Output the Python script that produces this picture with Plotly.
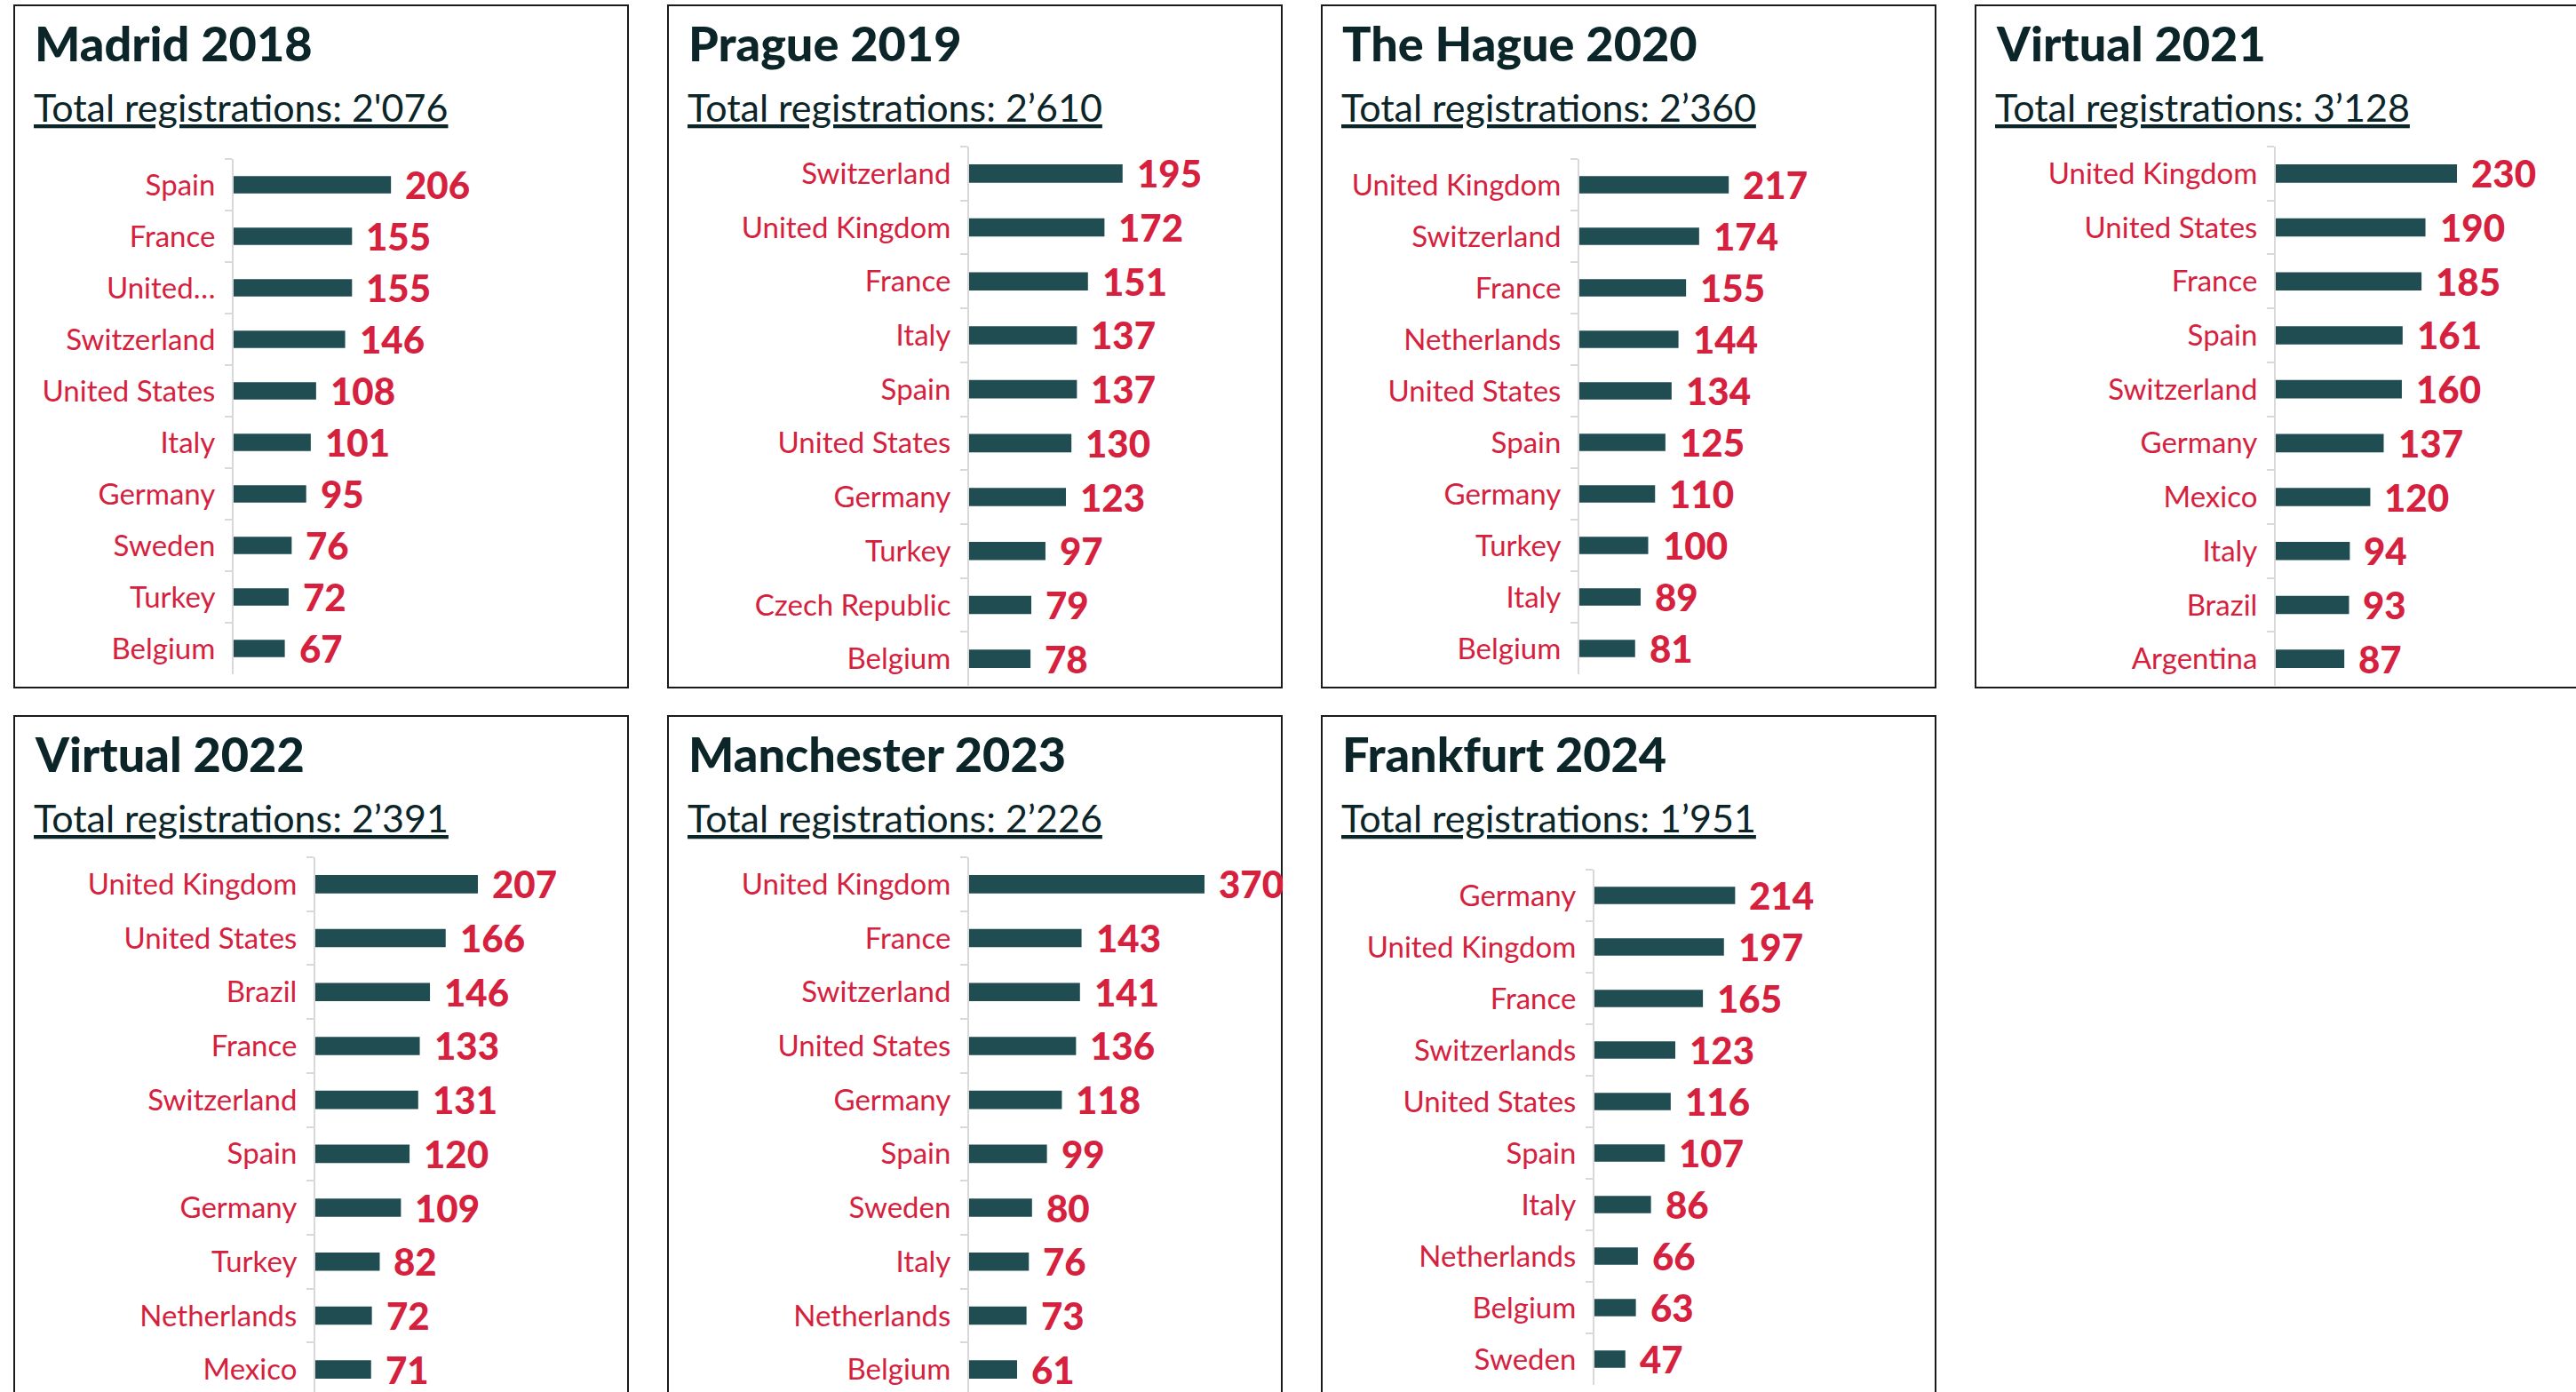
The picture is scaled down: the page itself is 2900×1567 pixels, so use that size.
import plotly.graph_objects as go

W, H = 2900, 1567

# ---------------- data ----------------
titles = ["Madrid 2018", "Prague 2019", "The Hague 2020", "Virtual 2021",
          "Virtual 2022", "Manchester 2023", "Frankfurt 2024"]
totals = ["2'076", "2’610", "2’360", "3’128", "2’391", "2’226", "1’951"]

madrid_countries = ["Spain", "France", "United…", "Switzerland", "United States",
                    "Italy", "Germany", "Sweden", "Turkey", "Belgium"]
madrid_values = [206, 155, 155, 146, 108, 101, 95, 76, 72, 67]

prague_countries = ["Switzerland", "United Kingdom", "France", "Italy", "Spain",
                    "United States", "Germany", "Turkey", "Czech Republic", "Belgium"]
prague_values = [195, 172, 151, 137, 137, 130, 123, 97, 79, 78]

hague_countries = ["United Kingdom", "Switzerland", "France", "Netherlands", "United States",
                   "Spain", "Germany", "Turkey", "Italy", "Belgium"]
hague_values = [217, 174, 155, 144, 134, 125, 110, 100, 89, 81]

virtual21_countries = ["United Kingdom", "United States", "France", "Spain", "Switzerland",
                       "Germany", "Mexico", "Italy", "Brazil", "Argentina"]
virtual21_values = [230, 190, 185, 161, 160, 137, 120, 94, 93, 87]

virtual22_countries = ["United Kingdom", "United States", "Brazil", "France", "Switzerland",
                       "Spain", "Germany", "Turkey", "Netherlands", "Mexico"]
virtual22_values = [207, 166, 146, 133, 131, 120, 109, 82, 72, 71]

manchester_countries = ["United Kingdom", "France", "Switzerland", "United States", "Germany",
                        "Spain", "Sweden", "Italy", "Netherlands", "Belgium"]
manchester_values = [370, 143, 141, 136, 118, 99, 80, 76, 73, 61]

frankfurt_countries = ["Germany", "United Kingdom", "France", "Switzerlands", "United States",
                       "Spain", "Italy", "Netherlands", "Belgium", "Sweden"]
frankfurt_values = [214, 197, 165, 123, 116, 107, 86, 66, 63, 47]

all_countries = [madrid_countries, prague_countries, hague_countries, virtual21_countries,
                 virtual22_countries, manchester_countries, frankfurt_countries]
all_values = [madrid_values, prague_values, hague_values, virtual21_values,
              virtual22_values, manchester_values, frankfurt_values]

# ---------------- layout constants (pixels) ----------------
PANEL_W, PANEL_H = 691, 768
panel_left = [16, 752, 1488, 2224, 16, 752, 1488]
panel_top = [6, 6, 6, 6, 806, 806, 806]
axis_x = [263, 1091, 1778, 2562, 355, 1091, 1795]
plot_top_off = [173, 159, 173, 159, 159, 159, 173]
band = [58, 60.7, 58, 60.7, 60.7, 60.7, 58]
ppu = [0.86, 0.886, 0.775, 0.887, 0.884, 0.885, 0.74]
plot_right = [None, None, None, None, None, 1356, None]

BAR = "#204D52"
RED = "#D6213E"
DARK = "#0B2529"
FONT = "Lato"

fig = go.Figure()
layout = dict(width=W, height=H, margin=dict(l=0, r=0, t=0, b=0),
              paper_bgcolor="white", plot_bgcolor="white", showlegend=False,
              shapes=[], annotations=[])

def px(x):
    return x / W

def py(y):
    return 1 - y / H

for i in range(7):
    n = i + 1
    xa = "x" if n == 1 else f"x{n}"
    ya = "y" if n == 1 else f"y{n}"
    xk = "xaxis" if n == 1 else f"xaxis{n}"
    yk = "yaxis" if n == 1 else f"yaxis{n}"

    cats = all_countries[i]
    vals = all_values[i]

    left = axis_x[i]
    right = plot_right[i] if plot_right[i] else panel_left[i] + PANEL_W - 15
    top = panel_top[i] + plot_top_off[i]
    bottom = min(top + 10 * band[i], H)
    xmax = (right - left) / ppu[i]
    yb = -0.5 + (bottom - top) / band[i]

    fig.add_trace(go.Bar(x=vals, y=cats, orientation="h", marker_color=BAR,
                         marker_line_width=0, width=0.34, xaxis=xa, yaxis=ya,
                         hoverinfo="x+y"))

    layout[xk] = dict(domain=[px(left), px(right)], range=[0, xmax], visible=False,
                      anchor=ya, fixedrange=True)
    layout[yk] = dict(domain=[py(bottom), py(top)], anchor=xa, type="category",
                      categoryorder="array", categoryarray=cats,
                      range=[yb, -0.5], showline=True, linecolor="#D9D9D9", linewidth=2,
                      ticks="outside", tickson="boundaries", ticklen=8, tickwidth=2,
                      tickcolor="#D9D9D9", showgrid=False, zeroline=False,
                      ticklabelstandoff=12,
                      tickfont=dict(family=FONT, size=33, color=RED), fixedrange=True)

    for c, v in zip(cats, vals):
        layout["annotations"].append(dict(
            x=min(v, xmax), y=c, xref=xa, yref=ya, text=str(v), showarrow=False,
            xanchor="left", yanchor="middle", xshift=14,
            font=dict(family=FONT, size=42, color=RED, weight=900)))

    # panel border
    pl, pt = panel_left[i], panel_top[i]
    layout["shapes"].append(dict(type="rect", xref="paper", yref="paper",
                                 x0=px(pl), x1=px(pl + PANEL_W), y0=py(pt + PANEL_H), y1=py(pt),
                                 line=dict(color="#1A1A1A", width=2), fillcolor="rgba(0,0,0,0)",
                                 layer="below"))
    # title
    layout["annotations"].append(dict(
        x=px(pl + 21), y=py(pt + 62 - 19), xref="paper", yref="paper",
        text=titles[i], showarrow=False, xanchor="left", yanchor="middle",
        font=dict(family=FONT, size=54, color=DARK, weight=900)))
    # subtitle
    layout["annotations"].append(dict(
        x=px(pl + 20), y=py(pt + 130 - 15), xref="paper", yref="paper",
        text=f"<span style='text-decoration:underline'>Total registrations: {totals[i]}</span>",
        showarrow=False, xanchor="left", yanchor="middle",
        font=dict(family=FONT, size=43, color=DARK)))

fig.update_layout(**layout)
fig.write_html("out.html", config={"displayModeBar": False})
